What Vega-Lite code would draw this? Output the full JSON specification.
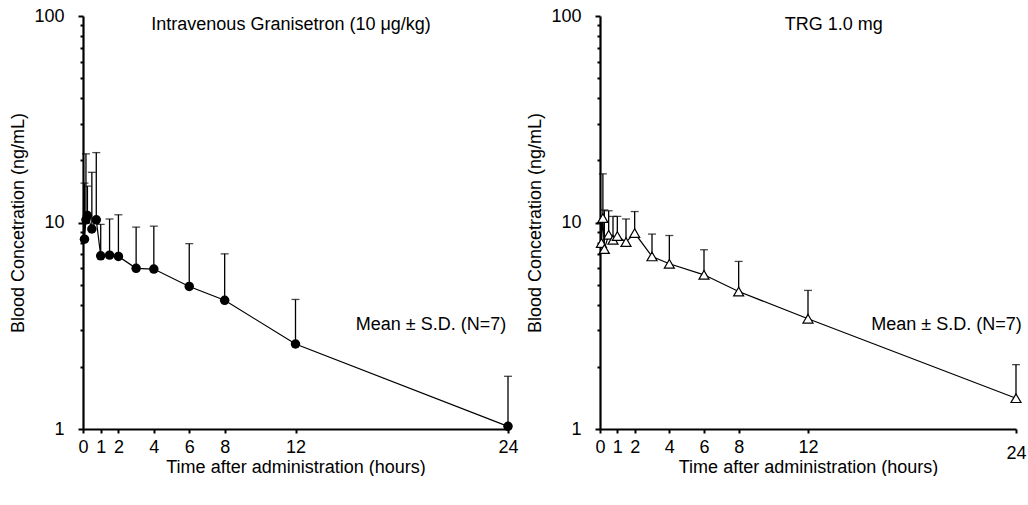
{
  "$schema": "https://vega.github.io/schema/vega-lite/v6.json",
  "background": "white",
  "padding": {"left": 9, "top": 7, "right": 0, "bottom": 0},
  "spacing": 7,
  "config": {
    "font": "Liberation Sans",
    "view": {"stroke": null},
    "text": {"font": "Liberation Sans", "fontSize": 18, "fill": "black"},
    "axis": {
      "grid": false,
      "domainColor": "black",
      "domainWidth": 2.2,
      "tickColor": "black",
      "tickWidth": 2,
      "labelColor": "black",
      "titleColor": "black",
      "labelFont": "Liberation Sans",
      "titleFont": "Liberation Sans",
      "labelFontSize": 18,
      "titleFontSize": 18,
      "titleFontWeight": "normal",
      "labelOverlap": false,
      "labelFlush": false
    },
    "axisX": {"tickSize": 4, "labelPadding": 5, "titlePadding": 2},
    "axisY": {"labelPadding": 14, "titlePadding": 6}
  },
  "datasets": {
    "iv": [
      {"t": 0.083, "mean": 8.3, "upper": 15.5},
      {"t": 0.167, "mean": 10.3, "upper": 21.5},
      {"t": 0.25, "mean": 10.8, "upper": 15.0},
      {"t": 0.5, "mean": 9.3, "upper": 17.5},
      {"t": 0.75, "mean": 10.3, "upper": 21.8},
      {"t": 1, "mean": 6.9, "upper": 9.8},
      {"t": 1.5, "mean": 6.95, "upper": 10.4},
      {"t": 2, "mean": 6.85, "upper": 10.9},
      {"t": 3, "mean": 6.0, "upper": 9.5},
      {"t": 4, "mean": 5.95, "upper": 9.6},
      {"t": 6, "mean": 4.9, "upper": 7.9},
      {"t": 8, "mean": 4.2, "upper": 7.05},
      {"t": 12, "mean": 2.58, "upper": 4.24},
      {"t": 24, "mean": 1.03, "upper": 1.8}
    ],
    "trg": [
      {"t": 0.083, "mean": 7.95, "upper": 10.0},
      {"t": 0.167, "mean": 10.5, "upper": 17.2},
      {"t": 0.25, "mean": 7.43, "upper": 11.5},
      {"t": 0.5, "mean": 8.72, "upper": 11.4},
      {"t": 0.75, "mean": 8.25, "upper": 10.7},
      {"t": 1, "mean": 8.6, "upper": 10.7},
      {"t": 1.5, "mean": 8.04, "upper": 10.4},
      {"t": 2, "mean": 8.89, "upper": 11.3},
      {"t": 3, "mean": 6.85, "upper": 8.79},
      {"t": 4, "mean": 6.31, "upper": 8.65},
      {"t": 6, "mean": 5.58, "upper": 7.38},
      {"t": 8, "mean": 4.63, "upper": 6.48},
      {"t": 12, "mean": 3.42, "upper": 4.69},
      {"t": 24, "mean": 1.41, "upper": 2.05}
    ]
  },
  "hconcat": [
    {
      "width": 425,
      "height": 413,
      "data": {"name": "iv"},
      "encoding": {
        "x": {
          "field": "t", "type": "quantitative",
          "title": "Time after administration (hours)",
          "scale": {"domain": [0, 24], "nice": false, "zero": false},
          "axis": {"values": [0, 1, 2, 4, 6, 8, 12, 24]}
        }
      },
      "layer": [
        {
          "mark": {"type": "rule", "color": "black", "strokeWidth": 1.3},
          "encoding": {
            "y": {
              "field": "mean", "type": "quantitative",
              "title": "Blood Concetration (ng/mL)",
              "scale": {"type": "log", "domain": [1, 100], "nice": false},
              "axis": {
                "values": [1, 2, 3, 4, 5, 6, 7, 8, 9, 10, 20, 30, 40, 50, 60, 70, 80, 90, 100],
                "labelExpr": "(datum.value == 1 || datum.value == 10 || datum.value == 100) ? format(datum.value, 'd') : ''",
                "tickSize": {"condition": {"test": "datum.value == 1 || datum.value == 10 || datum.value == 100", "value": 5}, "value": 3}
              }
            },
            "y2": {"field": "upper"}
          }
        },
        {
          "mark": {"type": "tick", "orient": "horizontal", "size": 8, "thickness": 1.3, "color": "black"},
          "encoding": {"y": {"field": "upper", "type": "quantitative", "title": "Blood Concetration (ng/mL)"}}
        },
        {
          "mark": {"type": "line", "color": "black", "strokeWidth": 1.2},
          "encoding": {"y": {"field": "mean", "type": "quantitative", "title": "Blood Concetration (ng/mL)"}}
        },
        {
          "mark": {"type": "point", "shape": "circle", "filled": true, "color": "black", "opacity": 1, "size": 90},
          "encoding": {"y": {"field": "mean", "type": "quantitative", "title": "Blood Concetration (ng/mL)"}}
        },
        {
          "transform": [{"filter": "datum.t == 24"}],
          "mark": {"type": "text", "text": "Intravenous Granisetron (10 μg/kg)", "fontSize": 18, "align": "center", "baseline": "middle", "fill": "black"},
          "encoding": {"x": {"datum": 11.75, "type": "quantitative"}, "y": {"datum": 90, "type": "quantitative"}}
        },
        {
          "transform": [{"filter": "datum.t == 24"}],
          "mark": {"type": "text", "text": "Mean ± S.D. (N=7)", "fontSize": 18, "align": "right", "baseline": "middle", "fill": "black"},
          "encoding": {"x": {"datum": 23.9, "type": "quantitative"}, "y": {"datum": 3.2, "type": "quantitative"}}
        }
      ]
    },
    {
      "width": 416,
      "height": 413,
      "data": {"name": "trg"},
      "encoding": {
        "x": {
          "field": "t", "type": "quantitative",
          "title": "Time after administration (hours)",
          "scale": {"domain": [0, 24], "nice": false, "zero": false},
          "axis": {
            "values": [0, 1, 2, 4, 6, 8, 12, 24],
            "labelLineHeight": 30,
            "titlePadding": -4,
            "labelBaseline": {"condition": {"test": "datum.value == 24", "value": "line-top"}, "value": "top"}
          }
        }
      },
      "layer": [
        {
          "mark": {"type": "rule", "color": "black", "strokeWidth": 1.3},
          "encoding": {
            "y": {
              "field": "mean", "type": "quantitative",
              "title": "Blood Concetration (ng/mL)",
              "scale": {"type": "log", "domain": [1, 100], "nice": false},
              "axis": {
                "values": [1, 2, 3, 4, 5, 6, 7, 8, 9, 10, 20, 30, 40, 50, 60, 70, 80, 90, 100],
                "labelExpr": "(datum.value == 1 || datum.value == 10 || datum.value == 100) ? format(datum.value, 'd') : ''",
                "tickSize": {"condition": {"test": "datum.value == 1 || datum.value == 10 || datum.value == 100", "value": 5}, "value": 3}
              }
            },
            "y2": {"field": "upper"}
          }
        },
        {
          "mark": {"type": "tick", "orient": "horizontal", "size": 8, "thickness": 1.3, "color": "black"},
          "encoding": {"y": {"field": "upper", "type": "quantitative", "title": "Blood Concetration (ng/mL)"}}
        },
        {
          "mark": {"type": "line", "color": "black", "strokeWidth": 1.2},
          "encoding": {"y": {"field": "mean", "type": "quantitative", "title": "Blood Concetration (ng/mL)"}}
        },
        {
          "mark": {"type": "point", "shape": "triangle-up", "filled": true, "fill": "white", "stroke": "black", "strokeWidth": 1.2, "opacity": 1, "size": 100},
          "encoding": {"y": {"field": "mean", "type": "quantitative", "title": "Blood Concetration (ng/mL)"}}
        },
        {
          "transform": [{"filter": "datum.t == 24"}],
          "mark": {"type": "text", "text": "TRG 1.0 mg", "fontSize": 18, "align": "center", "baseline": "middle", "fill": "black"},
          "encoding": {"x": {"datum": 13.48, "type": "quantitative"}, "y": {"datum": 90, "type": "quantitative"}}
        },
        {
          "transform": [{"filter": "datum.t == 24"}],
          "mark": {"type": "text", "text": "Mean ± S.D. (N=7)", "fontSize": 18, "align": "right", "baseline": "middle", "fill": "black"},
          "encoding": {"x": {"datum": 24.33, "type": "quantitative"}, "y": {"datum": 3.2, "type": "quantitative"}}
        }
      ]
    }
  ]
}
